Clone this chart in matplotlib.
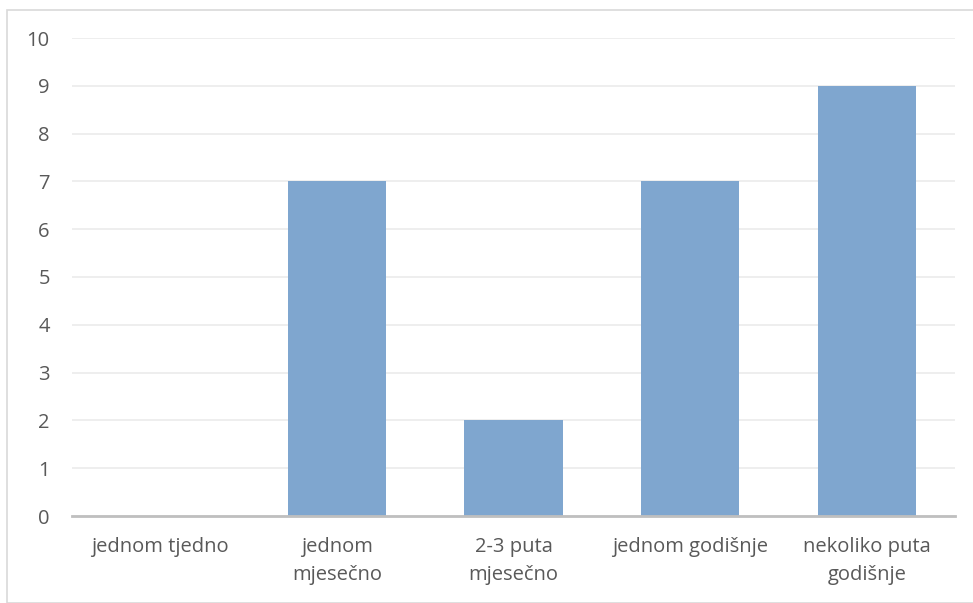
import matplotlib
matplotlib.use("Agg")
import matplotlib.pyplot as plt
import matplotlib.patches as mpatches

CATEGORIES = ["jednom tjedno", "jednom\nmjesečno", "2-3 puta\nmjesečno",
              "jednom godišnje", "nekoliko puta\ngodišnje"]
VALUES = [0, 7, 2, 7, 9]
Y_TICKS = list(range(0, 11))

BAR_COLOR = "#7fa6cf"
TEXT_COLOR = "#595959"

plt.rcParams["font.family"] = ["Open Sans", "DejaVu Sans"]

fig = plt.figure(figsize=(9.73, 6.03), dpi=100)
W, H = 973, 603
ax = fig.add_axes([72 / W, (H - 516) / H, (955 - 72) / W, (516 - 38) / H])

# outer chart border (light gray)
fig.patches.append(mpatches.Rectangle((7 / W, 0), 1.2, (H - 10) / H,
                                      transform=fig.transFigure, fill=False,
                                      edgecolor="#d9d9d9", linewidth=1.2))

x = range(len(CATEGORIES))
ax.bar(x, VALUES, width=0.555, color=BAR_COLOR, zorder=2)

ax.set_xlim(-0.5, len(CATEGORIES) - 0.5)
ax.set_ylim(0, 10)
ax.set_yticks(Y_TICKS)
ax.set_xticks(list(x))
ax.set_xticklabels(CATEGORIES, fontsize=14.5, color=TEXT_COLOR, linespacing=1.55)
ax.tick_params(axis="y", labelsize=14.5, labelcolor=TEXT_COLOR, length=0, pad=16)
ax.tick_params(axis="x", length=0, pad=15)
for lbl in ax.get_yticklabels():
    lbl.set_horizontalalignment("right")

ax.grid(axis="y", color="#ebebeb", linewidth=1.2, zorder=0)
for s in ["top", "right", "left"]:
    ax.spines[s].set_visible(False)
ax.spines["bottom"].set_color("#bfbfbf")
ax.spines["bottom"].set_linewidth(2)
ax.spines["bottom"].set_zorder(3)

fig.savefig("out.png", dpi=100)
